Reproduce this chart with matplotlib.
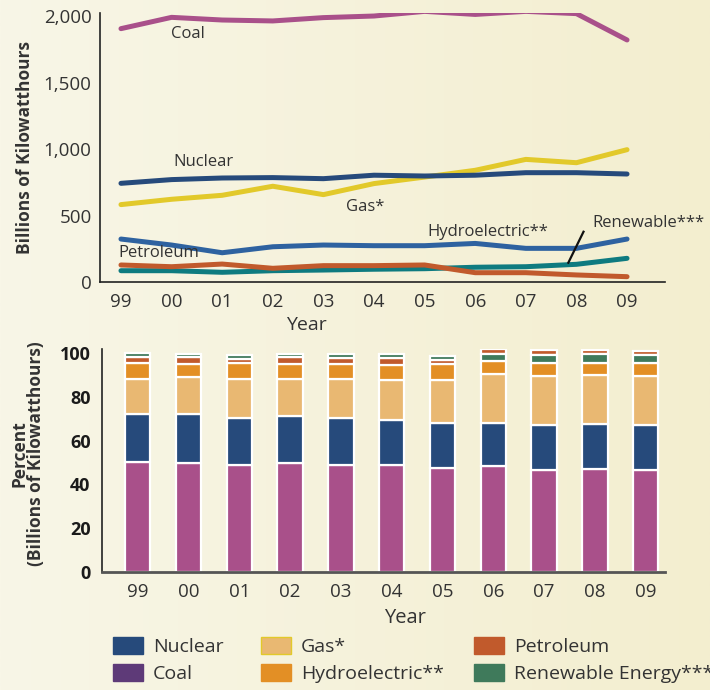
import numpy as np
import matplotlib.pyplot as plt
from matplotlib.patches import Patch
from matplotlib.colors import LinearSegmentedColormap

plt.rcParams['font.family'] = ['Open Sans', 'DejaVu Sans']

years = ['99', '00', '01', '02', '03', '04', '05', '06', '07', '08', '09']

# top chart, billions of kWh
coal = [1905, 1990, 1970, 1963, 1988, 2000, 2035, 2012, 2035, 2018, 1820]
nuclear = [742, 770, 782, 785, 777, 803, 797, 803, 822, 822, 812]
gas = [582, 622, 652, 720, 657, 740, 789, 840, 922, 897, 995]
hydro = [323, 278, 220, 265, 278, 273, 273, 290, 253, 253, 323]
petroleum = [128, 115, 135, 103, 123, 123, 128, 70, 70, 53, 40]
renewable = [85, 85, 73, 85, 90, 96, 100, 111, 115, 133, 178]

# bottom chart, percent
coal_pct = [50.4, 49.9, 48.9, 49.9, 48.7, 48.7, 47.3, 48.4, 46.6, 46.9, 46.6]
nuclear_pct = [22.0, 22.3, 21.5, 21.3, 21.6, 20.7, 21.0, 19.9, 20.6, 20.8, 20.6]
gas_pct = [16.0, 16.9, 18.0, 17.1, 18.0, 18.3, 19.7, 22.1, 22.4, 22.2, 22.4]
hydro_pct = [7.0, 6.2, 7.2, 7.0, 6.8, 7.1, 7.1, 6.1, 6.1, 5.9, 6.0]
petroleum_pct = [3.1, 3.1, 1.9, 3.1, 2.9, 3.2, 2.0, 2.1, 2.2, 1.8, 2.0]
renewable_pct = [1.6, 1.5, 1.8, 1.5, 1.8, 1.6, 1.7, 3.4, 3.7, 4.1, 3.5]
petroleum_on_top = [False] * 7 + [True] * 4

c_coal = '#a9508a'
c_nuc = '#264a7b'
c_gas_line = '#e2c92a'
c_hydro_line = '#2e62a0'
c_petro = '#c15a2c'
c_ren_line = '#0e7b80'
c_gas_bar = '#e9b872'
c_hydro_bar = '#e38f25'
c_ren_bar = '#3f7a5b'
txt = '#333333'

fig = plt.figure(figsize=(7.1, 6.9), dpi=100)

# cream gradient background
bg = fig.add_axes([0, 0, 1, 1], zorder=-10)
grad = np.linspace(0, 1, 256).reshape(1, -1)
cm = LinearSegmentedColormap.from_list('bg', ['#f8f6e7', '#f3eecf'])
bg.imshow(grad, aspect='auto', cmap=cm, extent=[0, 1, 0, 1])
bg.axis('off')

x = np.arange(len(years))

# ---- top line chart
ax1 = fig.add_axes([0.1408, 0.5913, 0.7958, 0.3903])
ax1.patch.set_alpha(0)
lw = 3.6
ax1.plot(x, coal, color=c_coal, lw=lw, solid_capstyle='round')
ax1.plot(x, gas, color=c_gas_line, lw=lw, solid_capstyle='round')
ax1.plot(x, nuclear, color=c_nuc, lw=lw, solid_capstyle='round')
ax1.plot(x, hydro, color=c_hydro_line, lw=lw, solid_capstyle='round')
ax1.plot(x, renewable, color=c_ren_line, lw=lw, solid_capstyle='round')
ax1.plot(x, petroleum, color=c_petro, lw=lw, solid_capstyle='round')
ax1.set_xlim(-0.415, 10.75)
ax1.set_ylim(0, 2025)
ax1.set_yticks([0, 500, 1000, 1500, 2000])
ax1.set_yticklabels(['0', '500', '1,000', '1,500', '2,000'])
ax1.set_xticks(x)
ax1.set_xticklabels(years)
ax1.tick_params(length=0, labelsize=13.5, colors=txt)
ax1.tick_params(axis='y', pad=6)
ax1.tick_params(axis='x', pad=8)
for s in ['top', 'right']:
    ax1.spines[s].set_visible(False)
for s in ['left', 'bottom']:
    ax1.spines[s].set_color('#222222')
    ax1.spines[s].set_linewidth(1.2)
ax1.set_ylabel('Billions of Kilowatthours', fontsize=12.5, fontweight='bold', color=txt)
ax1.yaxis.set_label_coords(-0.117, 0.5)
ax1.set_xlabel('Year', fontsize=14, color=txt)
ax1.xaxis.set_label_coords(0.366, -0.128)

lab = dict(fontsize=12, color=txt, ha='center', va='center')
ax1.text(1.32, 1865, 'Coal', **lab)
ax1.text(1.62, 902, 'Nuclear', **lab)
ax1.text(4.82, 564, 'Gas*', **lab)
ax1.text(7.25, 378, 'Hydroelectric**', **lab)
ax1.text(0.75, 218, 'Petroleum', **lab)
ax1.text(10.42, 446, 'Renewable***', clip_on=False, **lab)
ax1.plot([9.14, 8.84], [378, 145], color='#111111', lw=1.6)

# ---- bottom stacked bars
ax2 = fig.add_axes([0.1432, 0.1714, 0.7934, 0.3227])
ax2.patch.set_alpha(0)
bw = 0.5
ekw = dict(edgecolor='white', linewidth=1.6, width=bw)
base = np.zeros(len(years))
for vals, col in [(coal_pct, c_coal), (nuclear_pct, c_nuc), (gas_pct, c_gas_bar), (hydro_pct, c_hydro_bar)]:
    ax2.bar(x, vals, bottom=base, color=col, **ekw)
    base = base + np.array(vals)
ren = np.array(renewable_pct)
pet = np.array(petroleum_pct)
top_flag = np.array(petroleum_on_top)
ren_bottom = np.where(top_flag, base, base + pet)
pet_bottom = np.where(top_flag, base + ren, base)
ax2.bar(x, pet, bottom=pet_bottom, color=c_petro, **ekw)
ax2.bar(x, ren, bottom=ren_bottom, color=c_ren_bar, **ekw)

ax2.set_xlim(-0.709, 10.38)
ax2.set_ylim(0, 102)
ax2.set_yticks([0, 20, 40, 60, 80, 100])
ax2.set_xticks(x)
ax2.set_xticklabels(years)
ax2.tick_params(length=0, colors=txt)
ax2.tick_params(axis='x', labelsize=13.5, pad=8)
ax2.tick_params(axis='y', labelsize=13, pad=8)
for t in ax2.get_yticklabels():
    t.set_fontweight('bold')
    t.set_color('#1a1a1a')
for s in ['top', 'right']:
    ax2.spines[s].set_visible(False)
ax2.spines['left'].set_color('#222222')
ax2.spines['left'].set_linewidth(1.2)
ax2.spines['bottom'].set_color('#555555')
ax2.spines['bottom'].set_linewidth(2)
ax2.set_ylabel('Percent\n(Billions of Kilowatthours)', fontsize=12.5, fontweight='bold',
               color=txt, linespacing=0.95)
ax2.yaxis.set_label_coords(-0.1, 0.53)
ax2.set_xlabel('Year', fontsize=14.5, color=txt)
ax2.xaxis.set_label_coords(0.538, -0.165)

# ---- legend
leg_cols = [
    [('Nuclear', c_nuc, c_nuc), ('Coal', '#5e3a78', '#5e3a78')],
    [('Gas*', c_gas_bar, '#e2c92a'), ('Hydroelectric**', c_hydro_bar, c_hydro_bar)],
    [('Petroleum', c_petro, c_petro), ('Renewable Energy***', c_ren_bar, c_ren_bar)],
]
leg_x = [113.3, 261, 474]
for lx, items in zip(leg_x, leg_cols):
    handles = [Patch(facecolor=fc, edgecolor=ec, linewidth=1, label=l) for l, fc, ec in items]
    fig.legend(handles=handles, loc='upper left', bbox_to_anchor=(lx / 710, 1 - 637 / 690),
               frameon=False, fontsize=14, handlelength=1.55, handleheight=0.98,
               handletextpad=0.5, labelspacing=0.4, borderpad=0, borderaxespad=0,
               labelcolor=txt)

fig.savefig('out.png', dpi=100, facecolor=fig.get_facecolor())
